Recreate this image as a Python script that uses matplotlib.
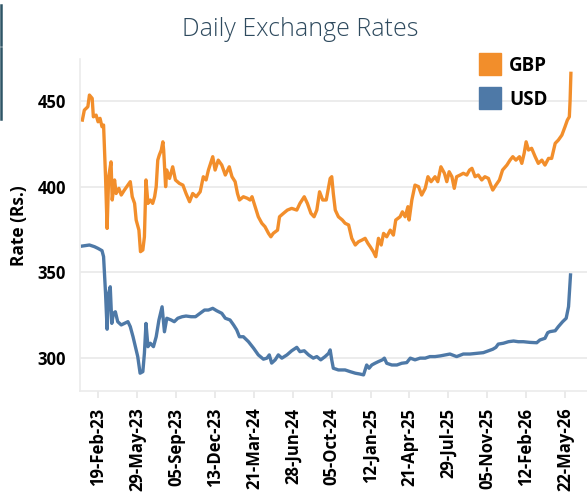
import numpy as np
import matplotlib
matplotlib.use("Agg")
import matplotlib.pyplot as plt
import matplotlib.dates as mdates
from matplotlib.lines import Line2D

plt.rcParams['font.family'] = ['Open Sans', 'DejaVu Sans']

# days counted from 2023-01-01
gbp_day = [8, 13, 22, 26, 33, 36, 43, 48, 53, 58, 62, 67, 71, 75, 81, 84, 90, 94, 101, 107,
           115, 124, 130, 135, 141, 145, 152, 156, 162, 166, 170, 175, 181, 187, 192, 196, 200,
           204, 209, 213, 215, 220, 223, 230, 238, 245, 255, 264, 272, 281, 289, 298, 308, 316,
           323, 329, 340, 346, 354, 363, 372, 382, 389, 397, 403, 408, 418, 428, 435, 440, 448,
           456, 465, 473, 482, 488, 494, 505, 510, 520, 530, 541, 554, 562, 573, 581, 590, 598,
           605, 612, 620, 629, 639, 643, 647, 652, 660, 670, 677, 686, 694, 703, 711, 720, 728,
           735, 741, 749, 755, 762, 769, 775, 783, 792, 800, 806, 817, 823, 830, 837, 840, 847,
           855, 864, 872, 881, 888, 896, 906, 913, 921, 930, 936, 942, 949, 955, 961, 970, 978,
           987, 994, 1000, 1008, 1016, 1025, 1033, 1042, 1048, 1053, 1061, 1070, 1078, 1089,
           1097, 1104, 1112, 1121, 1127, 1133, 1138, 1144, 1152, 1161, 1169, 1178, 1186, 1195,
           1203, 1212, 1220, 1229, 1237, 1243, 1248, 1250, 1252]
gbp_rate = [438.9, 444.7, 446.7, 453.5, 451.6, 440.8, 441.8, 437.9, 439.9, 435.0, 436.0, 405.8,
            375.6, 405.8, 414.5, 392.2, 403.9, 396.0, 399.0, 395.1, 398.0, 400.9, 402.9, 394.1,
            390.2, 380.5, 374.6, 362.0, 363.0, 370.7, 403.9, 390.2, 392.2, 390.2, 394.1, 400.0,
            415.5, 418.5, 421.4, 426.2, 421.4, 400.0, 409.7, 404.8, 411.6, 403.9, 401.9, 400.9,
            396.0, 391.2, 396.0, 394.1, 397.0, 405.8, 403.9, 409.7, 417.5, 409.7, 415.5, 412.6,
            406.8, 411.6, 405.8, 402.9, 396.0, 392.2, 394.1, 393.2, 392.2, 394.1, 388.3, 382.4,
            378.6, 376.6, 372.7, 370.7, 372.7, 374.6, 382.4, 384.4, 386.3, 387.3, 386.3, 390.2,
            394.1, 390.2, 384.4, 382.4, 386.3, 397.0, 392.2, 392.2, 404.8, 405.8, 396.0, 386.3,
            382.4, 380.5, 378.6, 377.6, 369.8, 365.9, 367.8, 368.8, 369.8, 366.9, 364.9, 362.0,
            359.1, 369.8, 365.9, 372.7, 370.7, 374.6, 371.7, 380.5, 382.4, 385.3, 382.4, 388.3,
            380.5, 392.2, 400.9, 400.0, 395.1, 399.0, 405.8, 402.9, 405.8, 402.9, 411.6, 407.8,
            402.9, 408.7, 405.8, 399.0, 405.8, 406.8, 407.8, 406.8, 409.7, 410.7, 405.8, 406.8,
            403.9, 405.8, 404.8, 400.9, 398.0, 400.9, 403.9, 409.7, 412.6, 415.5, 417.5, 415.5,
            417.5, 413.6, 419.5, 426.2, 421.4, 422.4, 417.5, 413.6, 415.5, 412.6, 416.5, 416.5,
            425.3, 427.2, 430.1, 435.0, 438.9, 440.8, 450.6, 466.2]

usd_day = [8, 26, 39, 48, 58, 62, 67, 71, 75, 79, 83, 87, 92, 98, 107, 115, 124, 130, 137, 143,
           149, 155, 162, 166, 170, 175, 181, 189, 196, 203, 211, 217, 223, 234, 242, 251, 262,
           272, 285, 296, 308, 319, 329, 340, 350, 363, 372, 384, 393, 401, 408, 418, 431, 444,
           456, 469, 478, 484, 490, 499, 507, 516, 529, 541, 554, 562, 573, 584, 596, 605, 615,
           626, 635, 639, 643, 647, 660, 677, 690, 703, 715, 724, 732, 738, 745, 753, 762, 772,
           777, 783, 796, 809, 821, 834, 843, 855, 868, 881, 893, 906, 919, 932, 944, 961, 978,
           995, 1012, 1029, 1042, 1053, 1061, 1067, 1080, 1093, 1106, 1118, 1131, 1148, 1165,
           1173, 1186, 1193, 1199, 1212, 1220, 1231, 1240, 1246, 1248, 1251]
usd_rate = [365.3, 365.9, 364.9, 363.9, 362.6, 359.1, 337.7, 316.7, 337.7, 341.5, 320.1, 326.0,
            326.9, 321.1, 319.2, 320.1, 321.1, 318.2, 312.3, 306.5, 300.7, 291.0, 291.9, 302.7,
            320.1, 306.5, 308.5, 306.5, 312.3, 322.1, 329.8, 315.2, 323.1, 322.1, 321.1, 323.1,
            324.0, 324.4, 324.0, 324.0, 326.0, 327.9, 327.9, 328.9, 327.5, 326.0, 323.1, 322.1,
            319.2, 316.3, 312.3, 312.3, 309.4, 305.6, 301.7, 299.2, 299.8, 301.7, 296.9, 298.8,
            301.7, 299.8, 301.7, 304.1, 306.1, 303.6, 304.1, 301.7, 299.8, 300.7, 298.8, 300.7,
            302.6, 304.6, 298.8, 293.9, 292.9, 292.9, 291.9, 291.0, 290.5, 290.0, 295.8, 293.9,
            295.8, 296.8, 297.8, 298.8, 299.8, 296.8, 295.8, 295.8, 296.8, 297.2, 299.8, 298.8,
            299.8, 299.8, 300.7, 300.7, 301.1, 301.7, 302.2, 300.7, 302.2, 302.2, 302.6, 303.0,
            304.1, 305.0, 306.1, 308.0, 308.5, 309.4, 309.8, 309.4, 309.4, 309.0, 308.8, 310.4,
            311.4, 314.7, 315.3, 315.8, 318.2, 321.1, 323.1, 329.9, 337.7, 348.4]

start = np.datetime64('2023-01-01')
gbp_dates = start + np.array(gbp_day).astype('timedelta64[D]')
usd_dates = start + np.array(usd_day).astype('timedelta64[D]')
tick_dates = np.datetime64('2023-02-19') + np.arange(13) * np.timedelta64(99, 'D')

orange = '#F28E2B'
blue = '#4E79A7'

fig = plt.figure(figsize=(5.87, 4.93), dpi=100)
ax = fig.add_axes([0.1363, 0.2069, 0.8637, 0.6728])

ax.plot(gbp_dates, gbp_rate, color=orange, lw=2.4, solid_joinstyle='round')
ax.plot(usd_dates, usd_rate, color=blue, lw=2.4, solid_joinstyle='round')

ax.set_xlim(start + np.timedelta64(2, 'D'), start + np.timedelta64(1293, 'D'))
ax.set_ylim(280.6, 474.4)
ax.set_yticks([300, 350, 400, 450])
ax.set_xticks(tick_dates)
ax.xaxis.set_major_formatter(mdates.DateFormatter('%d-%b-%y'))

ax.grid(axis='y', color='#EBEBEB', lw=1.3)
ax.set_axisbelow(True)
for s in ['top', 'right']:
    ax.spines[s].set_visible(False)
for s in ['left', 'bottom']:
    ax.spines[s].set_color('#EBEBEB')
    ax.spines[s].set_linewidth(1.2)

ax.tick_params(axis='y', length=0, pad=10, labelsize=12)
ax.tick_params(axis='x', length=5, width=1.2, color='#E6E6E6', pad=7, labelsize=12,
               labelrotation=90)
for lab in ax.get_xticklabels() + ax.get_yticklabels():
    lab.set_fontweight('bold')

ax.set_ylabel('Rate (Rs.)', fontsize=12.5, fontweight='bold', labelpad=7)
fig.text(0.512, 0.94, 'Daily Exchange Rates', fontsize=18, fontweight='light',
         color='#2E4A5E', ha='center', va='center')

handles = [Line2D([], [], marker='s', ms=16.5, ls='', color=orange),
           Line2D([], [], marker='s', ms=16.5, ls='', color=blue)]
leg = fig.legend(handles, ['GBP', 'USD'], loc='upper left', bbox_to_anchor=(0.784, 0.921),
                 frameon=False, prop={'weight': 'bold', 'size': 13.5}, handletextpad=0.3,
                 labelspacing=0.75, handlelength=1.4)

# dark edge strips at the left border of the original picture
fig.add_artist(Line2D([0.002, 0.002], [1 - 5 / 493, 1 - 45 / 493], color='#2E5566', lw=1.8))
fig.add_artist(Line2D([0.002, 0.002], [1 - 48 / 493, 1 - 119 / 493], color='#2E5566', lw=1.8))

fig.savefig('out.png', dpi=100)
